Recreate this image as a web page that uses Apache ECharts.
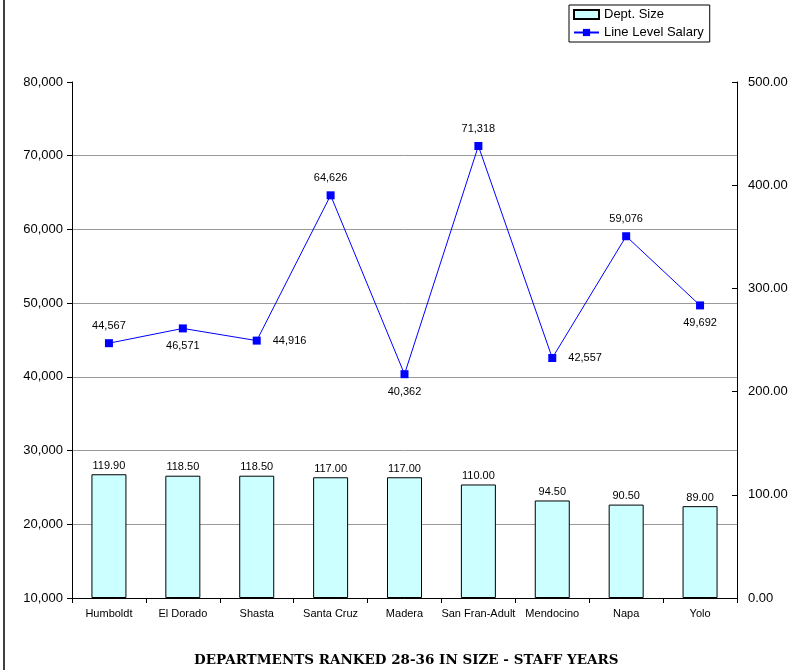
<!DOCTYPE html>
<html>
<head>
<meta charset="utf-8">
<script src="https://cdn.jsdelivr.net/npm/echarts@6/dist/echarts.min.js"></script>
<style>
    html, body { margin: 0; padding: 0; background: #fff; }
    #chart { width: 801px; height: 670px; }
</style>
</head>
<body>
<div id="chart"></div>
<script>
const departments = ["Humboldt", "El Dorado", "Shasta", "Santa Cruz", "Madera", "San Fran-Adult", "Mendocino", "Napa", "Yolo"];
const deptSize = [119.90, 118.50, 118.50, 117.00, 117.00, 110.00, 94.50, 90.50, 89.00];
const salary = [44567, 46571, 44916, 64626, 40362, 71318, 42557, 59076, 49692];
// where each salary label sits relative to its point
const salaryLabelPos = ["top", "bottom", "right", "top", "bottom", "top", "right", "top", "bottom"];

const font = "Arial, 'Liberation Sans', sans-serif";

const chart = echarts.init(document.getElementById("chart"));

const option = {
    animation: false,
    backgroundColor: "#fff",
    textStyle: { fontFamily: font },
    title: {
        text: "DEPARTMENTS RANKED 28-36 IN SIZE - STAFF YEARS",
        left: 189,
        top: 648,
        textStyle: {
            fontFamily: "'DejaVu Serif', serif",
            fontWeight: "bold",
            fontSize: 13.5,
            color: "#000",
        },
    },
    legend: {
        orient: "vertical",
        left: 569,
        top: 5,
        padding: [3, 6, 3, 4],
        itemGap: 5,
        itemWidth: 25,
        itemHeight: 9,
        borderColor: "#000",
        borderWidth: 1,
        backgroundColor: "#fff",
        textStyle: { fontFamily: font, fontSize: 13, color: "#000" },
        data: [
            { name: "Dept. Size", icon: "rect" },
            { name: "Line Level Salary" },
        ],
    },
    grid: {
        left: 72,
        right: 64,
        top: 82,
        bottom: 72,
        containLabel: false,
    },
    xAxis: {
        type: "category",
        data: departments,
        axisLine: { lineStyle: { color: "#000", width: 1 } },
        axisTick: { show: true, length: 5, inside: false, lineStyle: { color: "#000" } },
        axisLabel: { color: "#000", fontSize: 11, margin: 10, interval: 0 },
    },
    yAxis: [
        {
            type: "value",
            min: 10000,
            max: 80000,
            interval: 10000,
            position: "left",
            axisLine: { show: true, lineStyle: { color: "#000" } },
            axisTick: { show: true, length: 5, lineStyle: { color: "#000" } },
            axisLabel: {
                color: "#000",
                fontSize: 13,
                margin: 9,
                formatter: (v) => v.toLocaleString("en-US"),
            },
            splitLine: {
                show: true,
                lineStyle: {
                    color: ["#999", "#999", "#999", "#999", "#999", "#999", "#999", "transparent"],
                    width: 1,
                },
            },
        },
        {
            type: "value",
            min: 0,
            max: 500,
            interval: 100,
            position: "right",
            axisLine: { show: true, lineStyle: { color: "#000" } },
            axisTick: { show: true, inside: true, length: 5, lineStyle: { color: "#000" } },
            axisLabel: {
                color: "#000",
                fontSize: 13,
                margin: 11,
                formatter: (v) => v.toFixed(2),
            },
            splitLine: { show: false },
        },
    ],
    series: [
        {
            name: "Dept. Size",
            type: "bar",
            yAxisIndex: 1,
            barWidth: 35,
            itemStyle: {
                color: "#CCFFFF",
                borderColor: "#000",
                borderWidth: 1,
            },
            label: {
                show: true,
                position: "top",
                distance: 3,
                color: "#000",
                fontSize: 11,
                formatter: (p) => p.value.toFixed(2),
            },
            data: deptSize,
        },
        {
            name: "Line Level Salary",
            type: "line",
            yAxisIndex: 0,
            symbol: "rect",
            symbolSize: 8,
            z: 5,
            lineStyle: { color: "#0000FF", width: 1 },
            itemStyle: { color: "#0000FF" },
            data: salary.map((v, i) => ({
                value: v,
                label: {
                    show: true,
                    position: salaryLabelPos[i],
                    distance: salaryLabelPos[i] === "right" ? 12 : 8,
                    color: "#000",
                    fontSize: 11,
                    formatter: (p) => p.value.toLocaleString("en-US"),
                },
            })),
        },
    ],
    graphic: [
        {
            type: "line",
            shape: { x1: 4, y1: 0, x2: 4, y2: 670 },
            style: { stroke: "#404040", lineWidth: 2 },
        },
    ],
};

chart.setOption(option);
</script>
</body>
</html>
